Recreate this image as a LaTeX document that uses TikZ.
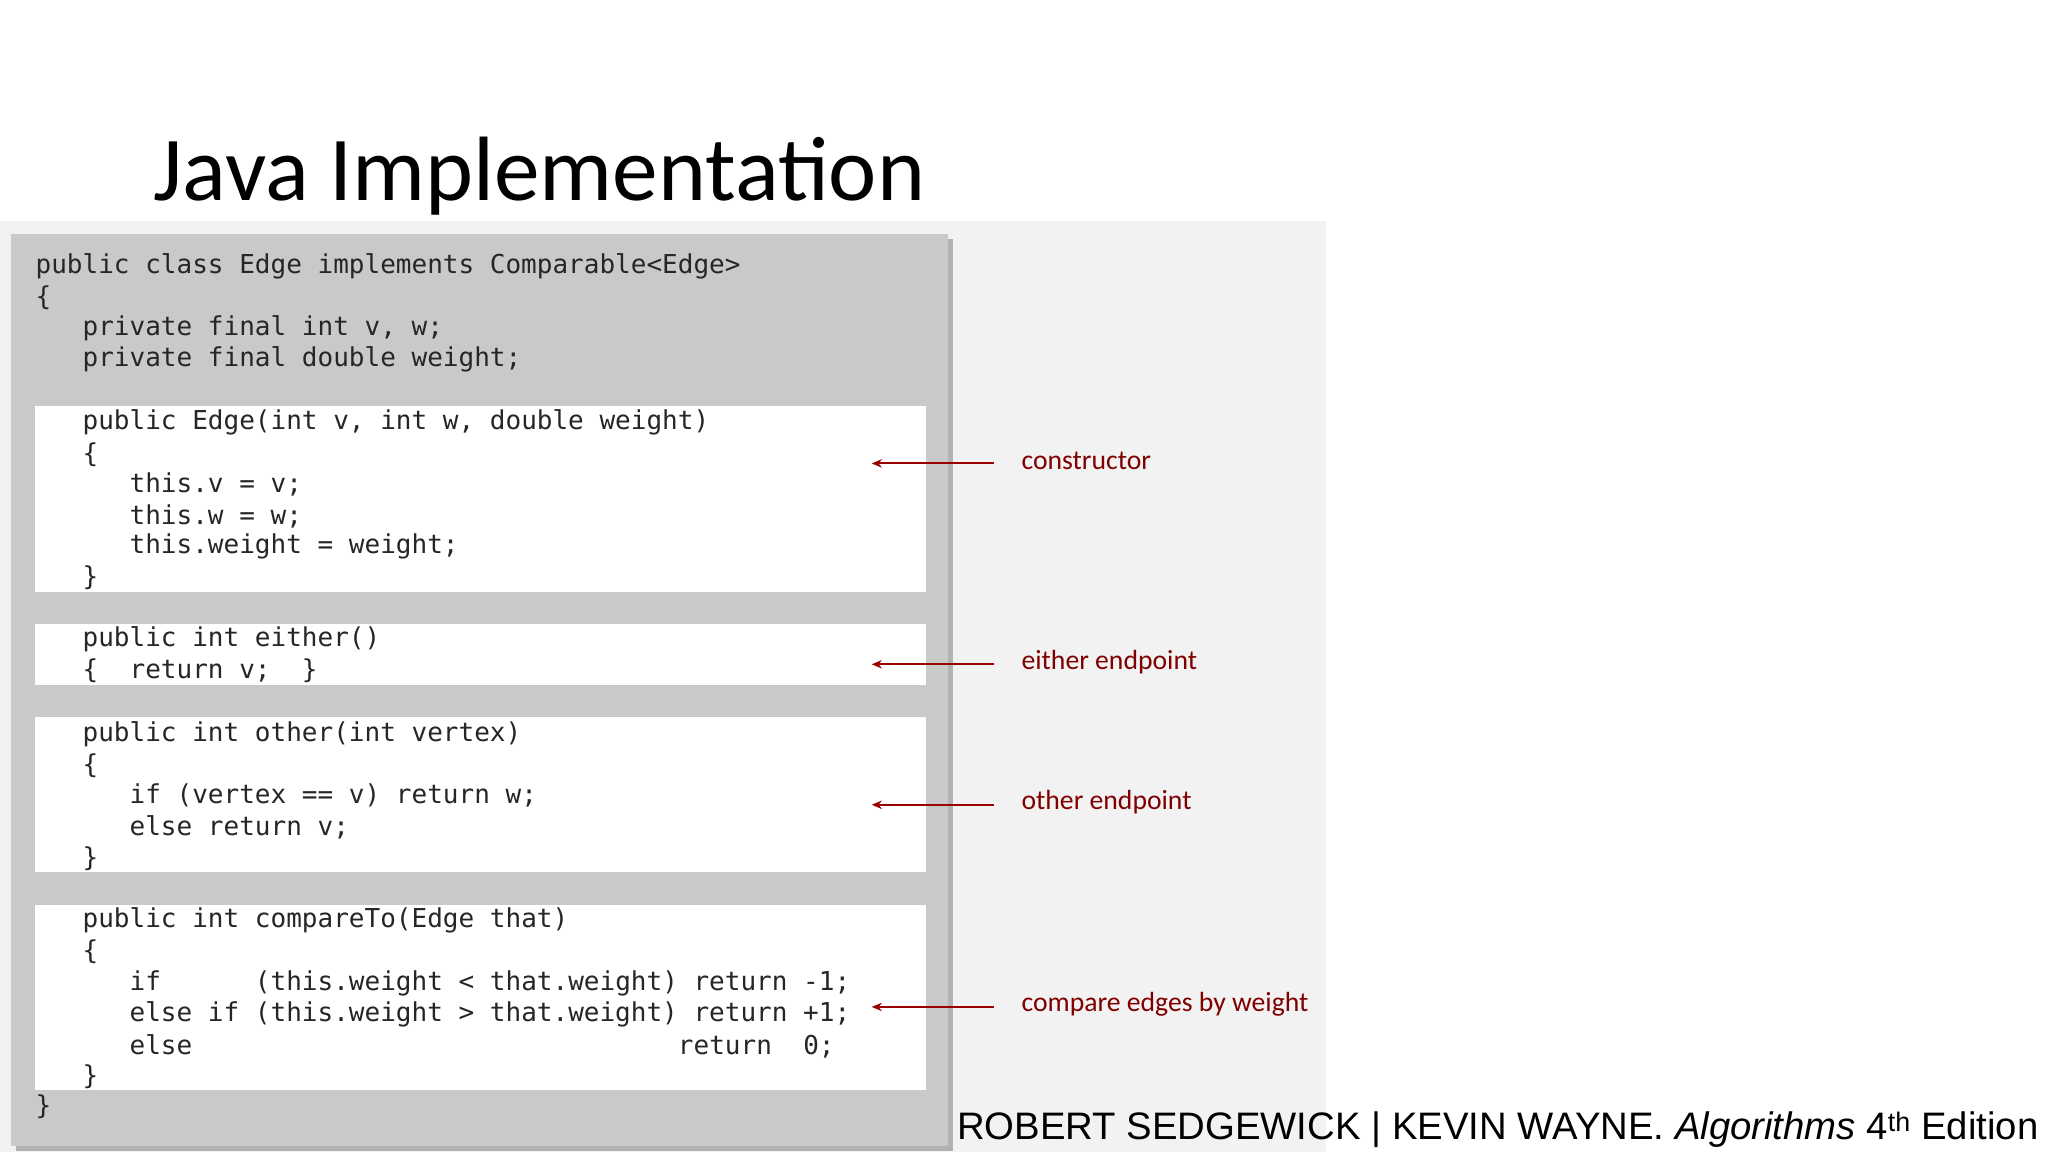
\documentclass[tikz,border=0pt]{standalone}
\usetikzlibrary{arrows.meta}
\usepackage{fontspec}
\setmainfont{Carlito}
\setmonofont{DejaVu Sans Mono}
\newfontfamily\arialf{Liberation Sans}
\begin{document}
\begin{tikzpicture}[x=0.05cm,y=-0.05cm,
  code/.style={anchor=west,inner sep=0,font=\ttfamily\fontsize{28.2}{28.2}\selectfont,text=black!85},
  lab/.style={anchor=west,inner sep=0,font=\fontsize{30}{30}\selectfont,text=red!50!black},
  arr/.style={draw=red!60!black,line width=2.2pt,-{Stealth[length=11pt,width=9pt]}},
  wbox/.style={fill=white,draw=none}]
\useasboundingbox (0,0) rectangle (1560,877.5);
\fill[gray!10] (0,168) rectangle (1010,877.5);
\fill[black!30] (12,182) rectangle (726,877);
\fill[gray!42] (8,178) rectangle (722,873);
\fill[wbox] (27,309) rectangle (705,451);
\fill[wbox] (27,475) rectangle (705,522);
\fill[wbox] (27,546) rectangle (705,664);
\fill[wbox] (27,689) rectangle (705,830);
\node[anchor=base west,inner sep=0,font=\fontsize{99}{99}\selectfont] (title) at (117,153) {Java Implementation};
\node[code] (l1) at (27,203) {public class Edge implements Comparable<Edge>};
\node[code] (l2) at (27,227) {\{};
\node[code] (l3) at (27,250) {\ \ \ private final int v, w;};
\node[code] (l4) at (27,274) {\ \ \ private final double weight;};
\node[code] (l5) at (27,322) {\ \ \ public Edge(int v, int w, double weight)};
\node[code] (l6) at (27,346) {\ \ \ \{};
\node[code] (l7) at (27,369) {\ \ \ \ \ \ this.v = v;};
\node[code] (l8) at (27,393) {\ \ \ \ \ \ this.w = w;};
\node[code] (l9) at (27,416) {\ \ \ \ \ \ this.weight = weight;};
\node[code] (l10) at (27,440) {\ \ \ \}};
\node[code] (l11) at (27,487) {\ \ \ public int either()};
\node[code] (l12) at (27,511) {\ \ \ \{\ \ return v;\ \ \}};
\node[code] (l13) at (27,559) {\ \ \ public int other(int vertex)};
\node[code] (l14) at (27,583) {\ \ \ \{};
\node[code] (l15) at (27,606) {\ \ \ \ \ \ if (vertex == v) return w;};
\node[code] (l16) at (27,630) {\ \ \ \ \ \ else return v;};
\node[code] (l17) at (27,654) {\ \ \ \}};
\node[code] (l18) at (27,701) {\ \ \ public int compareTo(Edge that)};
\node[code] (l19) at (27,725) {\ \ \ \{};
\node[code] (l20) at (27,749) {\ \ \ \ \ \ if\ \ \ \ \ \ (this.weight < that.weight) return -1;};
\node[code] (l21) at (27,773) {\ \ \ \ \ \ else if (this.weight > that.weight) return +1;};
\node[code] (l22) at (27,797) {\ \ \ \ \ \ else\ \ \ \ \ \ \ \ \ \ \ \ \ \ \ \ \ \ \ \ \ \ \ \ \ \ \ \ \ \ \ return\ \ 0;};
\node[code] (l23) at (27,820) {\ \ \ \}};
\node[code] (l24) at (27,843) {\}};
\foreach \n/\y/\t in {a/351/constructor,b/504/either endpoint,c/611/other endpoint,d/765/compare edges by weight}{
  \node[lab] (\n) at (778,\y) {\t};
  \coordinate (\n s) at (757,\y+2);
  \coordinate (\n e) at (664,\y+2);
  \draw[arr] (\n s) -- (\n e);
}
\node[anchor=base west,inner sep=0,font=\arialf\fontsize{41.5}{41.5}\selectfont] (foot) at (729,868) {ROBERT SEDGEWICK | KEVIN WAYNE. \textit{Algorithms} 4\textsuperscript{th} Edition};
\end{tikzpicture}
\end{document}
